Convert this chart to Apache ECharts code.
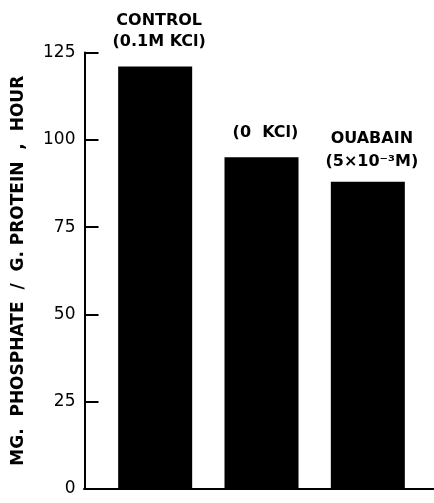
<!DOCTYPE html>
<html>
<head>
<meta charset="utf-8">
<script src="https://cdn.jsdelivr.net/npm/echarts@6/dist/echarts.min.js"></script>
<style>
html,body{margin:0;padding:0;background:#fff;}
#chart{width:434px;height:503px;}
</style>
</head>
<body>
<div id="chart"></div>
<script>
var categories = ['CONTROL', '0 KCl', 'OUABAIN'];
var values = [121, 95, 88];
var barLabels = [
  ['CONTROL', '(0.1M KCl)'],
  ['(0  KCl)'],
  ['OUABAIN', '(5×10⁻³M)']
];
var yTicks = [0, 25, 50, 75, 100, 125];
var yAxisTitle = 'MG.  PHOSPHATE  /  G. PROTEIN  ,  HOUR';

var FONT = 'DejaVu Sans';
var labelStyles = [
  {distance: 14, lineHeight: 21, offset: [4, 0]},
  {distance: 14, lineHeight: 20, offset: [4, 0]},
  {distance: 8, lineHeight: 23, offset: [4, 0]}
];

var chart = echarts.init(document.getElementById('chart'), null, {renderer: 'canvas'});
chart.setOption({
  animation: false,
  backgroundColor: '#fff',
  grid: [
    {left: 102, right: 13, top: 52.5, bottom: 14, containLabel: false, outerBoundsMode: 'none'},
    {left: 84, right: 0, top: 52.5, bottom: 14, containLabel: false, outerBoundsMode: 'none'}
  ],
  xAxis: [
    {
      type: 'category', gridIndex: 0, data: categories,
      axisLine: {show: false}, axisTick: {show: false}, axisLabel: {show: false}
    },
    {
      type: 'value', gridIndex: 1, min: 0, max: 1,
      axisLine: {show: true, lineStyle: {color: '#000', width: 2}},
      axisTick: {show: false}, axisLabel: {show: false}, splitLine: {show: false}
    }
  ],
  yAxis: [
    {
      type: 'value', gridIndex: 0, min: yTicks[0], max: yTicks[yTicks.length - 1], interval: 25,
      offset: 17.5,
      name: yAxisTitle, nameLocation: 'middle', nameRotate: 90, nameGap: 57,
      nameTextStyle: {fontFamily: FONT, fontSize: 17, fontWeight: 'bold', color: '#000'},
      axisLine: {show: true, lineStyle: {color: '#000', width: 2}},
      axisTick: {show: true, inside: true, length: 14, lineStyle: {color: '#000', width: 2}},
      axisLabel: {fontFamily: FONT, fontSize: 17, color: '#000', margin: 9},
      splitLine: {show: false}
    },
    {
      type: 'value', gridIndex: 1, min: 0, max: 1, show: false
    }
  ],
  series: [{
    type: 'bar',
    xAxisIndex: 0, yAxisIndex: 0,
    barWidth: 74,
    itemStyle: {color: '#000'},
    data: values.map(function (v, i) {
      var s = labelStyles[i];
      return {
        value: v,
        label: {
          show: true, position: 'top', distance: s.distance, offset: s.offset,
          fontFamily: FONT, fontSize: 16, fontWeight: 'bold', color: '#000', lineHeight: s.lineHeight,
          align: 'center',
          formatter: barLabels[i].join('\n')
        }
      };
    })
  }]
});
</script>
</body>
</html>
